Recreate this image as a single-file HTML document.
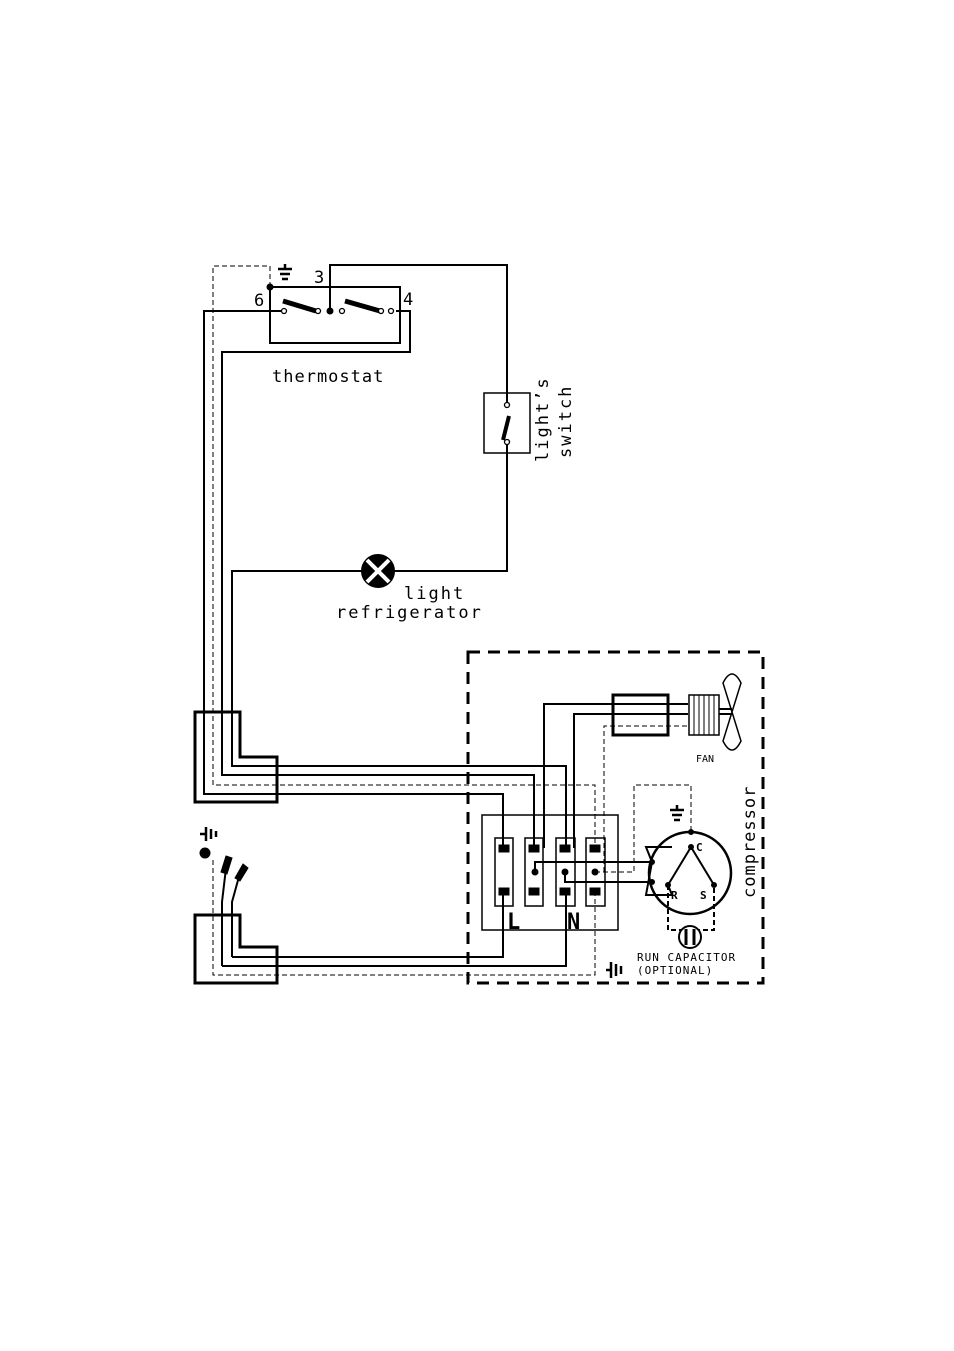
<!DOCTYPE html>
<html><head><meta charset="utf-8"><style>
html,body{margin:0;padding:0;background:#fff}
svg{display:block}
text{font-family:"DejaVu Sans Mono","Liberation Mono",monospace;fill:#000}
</style></head><body>
<svg width="954" height="1351" viewBox="0 0 954 1351" xmlns="http://www.w3.org/2000/svg">
<g fill="none" stroke="#000" stroke-width="2">
<rect x="270" y="287" width="130" height="56"/>
<polyline points="330,311 330,265 507,265 507,404"/>
<polyline points="284,311 204,311 204,794 503,794 503,848"/>
<polyline points="396,311 410,311 410,352 222,352 222,775 534,775 534,848"/>
<rect x="484" y="393" width="46" height="60" stroke-width="1.5"/>
<polyline points="507,442 507,571 394,571"/>
<polyline points="362,571 232,571 232,766 566,766 566,848"/>
<polyline points="544,848 544,704 688,704"/>
<polyline points="574,848 574,714 688,714"/>
<rect x="482" y="815" width="136" height="115" stroke-width="1.5"/>
<rect x="495" y="838" width="18" height="68" stroke-width="1.5"/>
<rect x="525" y="838" width="18" height="68" stroke-width="1.5"/>
<rect x="556" y="838" width="19" height="68" stroke-width="1.5"/>
<rect x="586" y="838" width="19" height="68" stroke-width="1.5"/>
<polyline points="535,872 535,862 652,862"/>
<polyline points="565,872 565,882 652,882"/>
<polyline points="232,957 232,915 232,902 240,873"/>
<polyline points="222,966 222,915 222,902 226,868"/>
<polyline points="232,957 503,957 503,891"/>
<polyline points="222,966 566,966 566,891"/>
<circle cx="690" cy="873" r="41" stroke-width="2.5"/>
<polyline points="672,847 646,847 652,862 646,895 672,895 668,885"/>
<polyline points="691,847 668,885" stroke-width="2"/>
<polyline points="691,847 714,885" stroke-width="2"/>
<rect x="613" y="695" width="55" height="40" stroke-width="3"/>
<rect x="689" y="695" width="30" height="40" stroke-width="1.5"/>
<line x1="694" y1="695" x2="694" y2="735" stroke-width="1"/>
<line x1="699" y1="695" x2="699" y2="735" stroke-width="1"/>
<line x1="704" y1="695" x2="704" y2="735" stroke-width="1"/>
<line x1="709" y1="695" x2="709" y2="735" stroke-width="1"/>
<line x1="714" y1="695" x2="714" y2="735" stroke-width="1"/>
<line x1="719" y1="709" x2="732" y2="709"/>
<line x1="719" y1="714" x2="732" y2="714"/>
<path d="M732,712 L723,683 Q732,665 741,683 Z M732,712 L723,741 Q732,759 741,741 Z" stroke-width="1.5"/>
<polygon points="195,712 240,712 240,757 277,757 277,802 195,802" stroke-width="3"/>
<polygon points="195,915 240,915 240,947 277,947 277,983 195,983" stroke-width="3"/>
</g>
<g fill="none" stroke="#000" stroke-width="1" stroke-dasharray="5,3">
<polyline points="270,287 270,266 213,266 213,785 595,785 595,848"/>
<polyline points="213,860 213,975 595,975 595,891"/>
<polyline points="595,872 634,872 634,785 691,785 691,832"/>
<polyline points="604,872 604,726 689,726"/>
<polyline points="668,885 668,930 714,930 714,885" stroke-width="2"/>
</g>
<rect x="468" y="652" width="295" height="331" fill="none" stroke="#000" stroke-width="3" stroke-dasharray="12,8"/>
<g stroke="#000" fill="#000">
<line x1="283" y1="301" x2="316" y2="311" stroke-width="5"/>
<line x1="345" y1="301" x2="380" y2="311" stroke-width="5"/>
<line x1="509" y1="416" x2="503" y2="440" stroke-width="4"/>
<circle cx="330" cy="311" r="3"/>
<circle cx="270" cy="287" r="3"/>
<circle cx="205" cy="853" r="5"/>
<circle cx="691" cy="832" r="2.5"/><circle cx="691" cy="847" r="2.5"/>
<circle cx="668" cy="885" r="2.5"/><circle cx="714" cy="885" r="2.5"/>
<circle cx="652" cy="862" r="2.5"/><circle cx="652" cy="882" r="2.5"/>
<circle cx="535" cy="872" r="3"/><circle cx="565" cy="872" r="3"/><circle cx="595" cy="872" r="3"/>
<rect x="499" y="845" width="10" height="7"/><rect x="529" y="845" width="10" height="7"/>
<rect x="560" y="845" width="10" height="7"/><rect x="590" y="845" width="10" height="7"/>
<rect x="499" y="888" width="10" height="7"/><rect x="529" y="888" width="10" height="7"/>
<rect x="560" y="888" width="10" height="7"/><rect x="590" y="888" width="10" height="7"/>
<polygon points="221,872 226,856 232,858 227,874"/>
<polygon points="235,878 243,864 248,868 240,881"/>
</g>
<g fill="#fff" stroke="#000" stroke-width="1.3">
<circle cx="284" cy="311" r="2.5"/><circle cx="318" cy="311" r="2.5"/>
<circle cx="342" cy="311" r="2.5"/><circle cx="381" cy="311" r="2.5"/><circle cx="391" cy="311" r="2.5"/>
<circle cx="507" cy="405" r="2.5"/><circle cx="507" cy="442" r="2.5"/>
</g>
<circle cx="378" cy="571" r="16" fill="#000" stroke="#000" stroke-width="2"/>
<line x1="367" y1="560" x2="389" y2="582" stroke="#fff" stroke-width="4"/>
<line x1="389" y1="560" x2="367" y2="582" stroke="#fff" stroke-width="4"/>
<g stroke="#000" stroke-width="2.5">
<line x1="278" y1="269" x2="292" y2="269"/><line x1="280" y1="274" x2="290" y2="274"/><line x1="282" y1="279" x2="288" y2="279"/><line x1="285" y1="264" x2="285" y2="269"/>
<line x1="670" y1="810" x2="684" y2="810"/><line x1="672" y1="815" x2="682" y2="815"/><line x1="674" y1="820" x2="680" y2="820"/><line x1="677" y1="805" x2="677" y2="810"/>
<line x1="200" y1="834" x2="205" y2="834"/><line x1="206" y1="827" x2="206" y2="841"/><line x1="211" y1="829" x2="211" y2="839"/><line x1="216" y1="831" x2="216" y2="837"/>
<line x1="606" y1="970" x2="610" y2="970"/><line x1="611" y1="962" x2="611" y2="978"/><line x1="616" y1="964" x2="616" y2="976"/><line x1="621" y1="966" x2="621" y2="974"/>
</g>
<circle cx="690" cy="937" r="11" fill="#fff" stroke="#000" stroke-width="2"/>
<line x1="686" y1="929" x2="686" y2="945" stroke="#000" stroke-width="3"/>
<line x1="694" y1="929" x2="694" y2="945" stroke="#000" stroke-width="3"/>
<text x="254" y="306" font-size="17">6</text>
<text x="314" y="283" font-size="17">3</text>
<text x="403" y="305" font-size="17">4</text>
<text x="272" y="382" font-size="17" letter-spacing="1">thermostat</text>
<text x="404" y="599" font-size="17" letter-spacing="2">light</text>
<text x="336" y="618" font-size="17" letter-spacing="2">refrigerator</text>
<text transform="translate(548,462) rotate(-90)" font-size="17" letter-spacing="2">light’s</text>
<text transform="translate(571,458) rotate(-90)" font-size="17" letter-spacing="2">switch</text>
<text transform="translate(755,898) rotate(-90)" font-size="17" letter-spacing="1">compressor</text>
<text x="696" y="762" font-size="10">FAN</text>
<text x="696" y="851" font-size="11" font-weight="bold">C</text>
<text x="671" y="899" font-size="11" font-weight="bold">R</text>
<text x="700" y="899" font-size="11" font-weight="bold">S</text>
<text x="507" y="929" font-size="22" font-weight="bold" font-family="Liberation Sans">L</text>
<text x="567" y="929" font-size="22" font-weight="bold" font-family="Liberation Sans">N</text>
<text x="637" y="961" font-size="11" letter-spacing="1">RUN CAPACITOR</text>
<text x="637" y="974" font-size="11" letter-spacing="1">(OPTIONAL)</text>
</svg>
</body></html>
